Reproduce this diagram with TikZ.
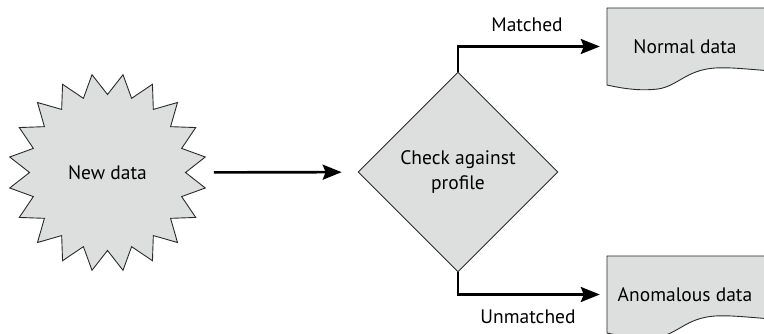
\documentclass[tikz,border=0pt]{standalone}
\usepackage{fontspec}
\setmainfont{PT Sans}
\usetikzlibrary{shapes.geometric,arrows.meta}
\definecolor{shapefill}{HTML}{DDDFDE}
\definecolor{shapeedge}{HTML}{2A2A2A}
\tikzset{
  shapebox/.style={fill=shapefill,draw=shapeedge,line width=0.9pt},
  burst/.style={shapebox,star,star points=20,star point ratio=1.27,
    minimum size=198pt,inner sep=0pt,shape border rotate=9},
  decision/.style={shapebox,diamond,minimum width=200pt,minimum height=200pt,
    inner sep=0pt,align=center},
  doclabel/.style={rectangle,minimum width=156pt,minimum height=77pt,inner sep=0pt},
  flow/.style={line width=2.6pt,-{Stealth[length=19pt,width=15pt,inset=3pt]}},
  branchlabel/.style={inner sep=0pt}
}
\begin{document}
\begin{tikzpicture}[x=1pt,y=-1pt,font=\fontsize{19.5}{25}\selectfont]
\useasboundingbox (0,0) rectangle (764,334);
\clip (0,0) rectangle (764,334);

% source and decision
\node[burst] (src) at (107.5,172.5) {New data};
\node[decision] (check) at (458,172) {Check against\\profile};

% document outlines with wavy lower edge
\foreach \dy in {0,248}{
  \begin{scope}[shift={(0,\dy)}]
    \path[shapebox] (607,85) .. controls (625,89) and (640,91) .. (658,89)
      .. controls (678,86) and (686,70) .. (715,68)
      .. controls (735,67) and (752,70) .. (800,73)
      -- (800,8) -- (607,8) -- cycle;
  \end{scope}
}
\node[doclabel] (normal) at (685,46.5) {Normal data};
\node[doclabel] (anom) at (685,294.5) {Anomalous data};

% connectors
\draw[flow,shorten <=27.5pt,shorten >=16pt] (src) -- (check);
\draw[flow,shorten >=7pt] (check.north) |- (normal.west);
\draw[flow,shorten >=7pt] (check.south) |- (anom.west);

% branch labels
\node[branchlabel] (lmatch) at (527,25) {Matched};
\node[branchlabel] (lunmatch) at (528,317) {Unmatched};
\end{tikzpicture}
\end{document}
